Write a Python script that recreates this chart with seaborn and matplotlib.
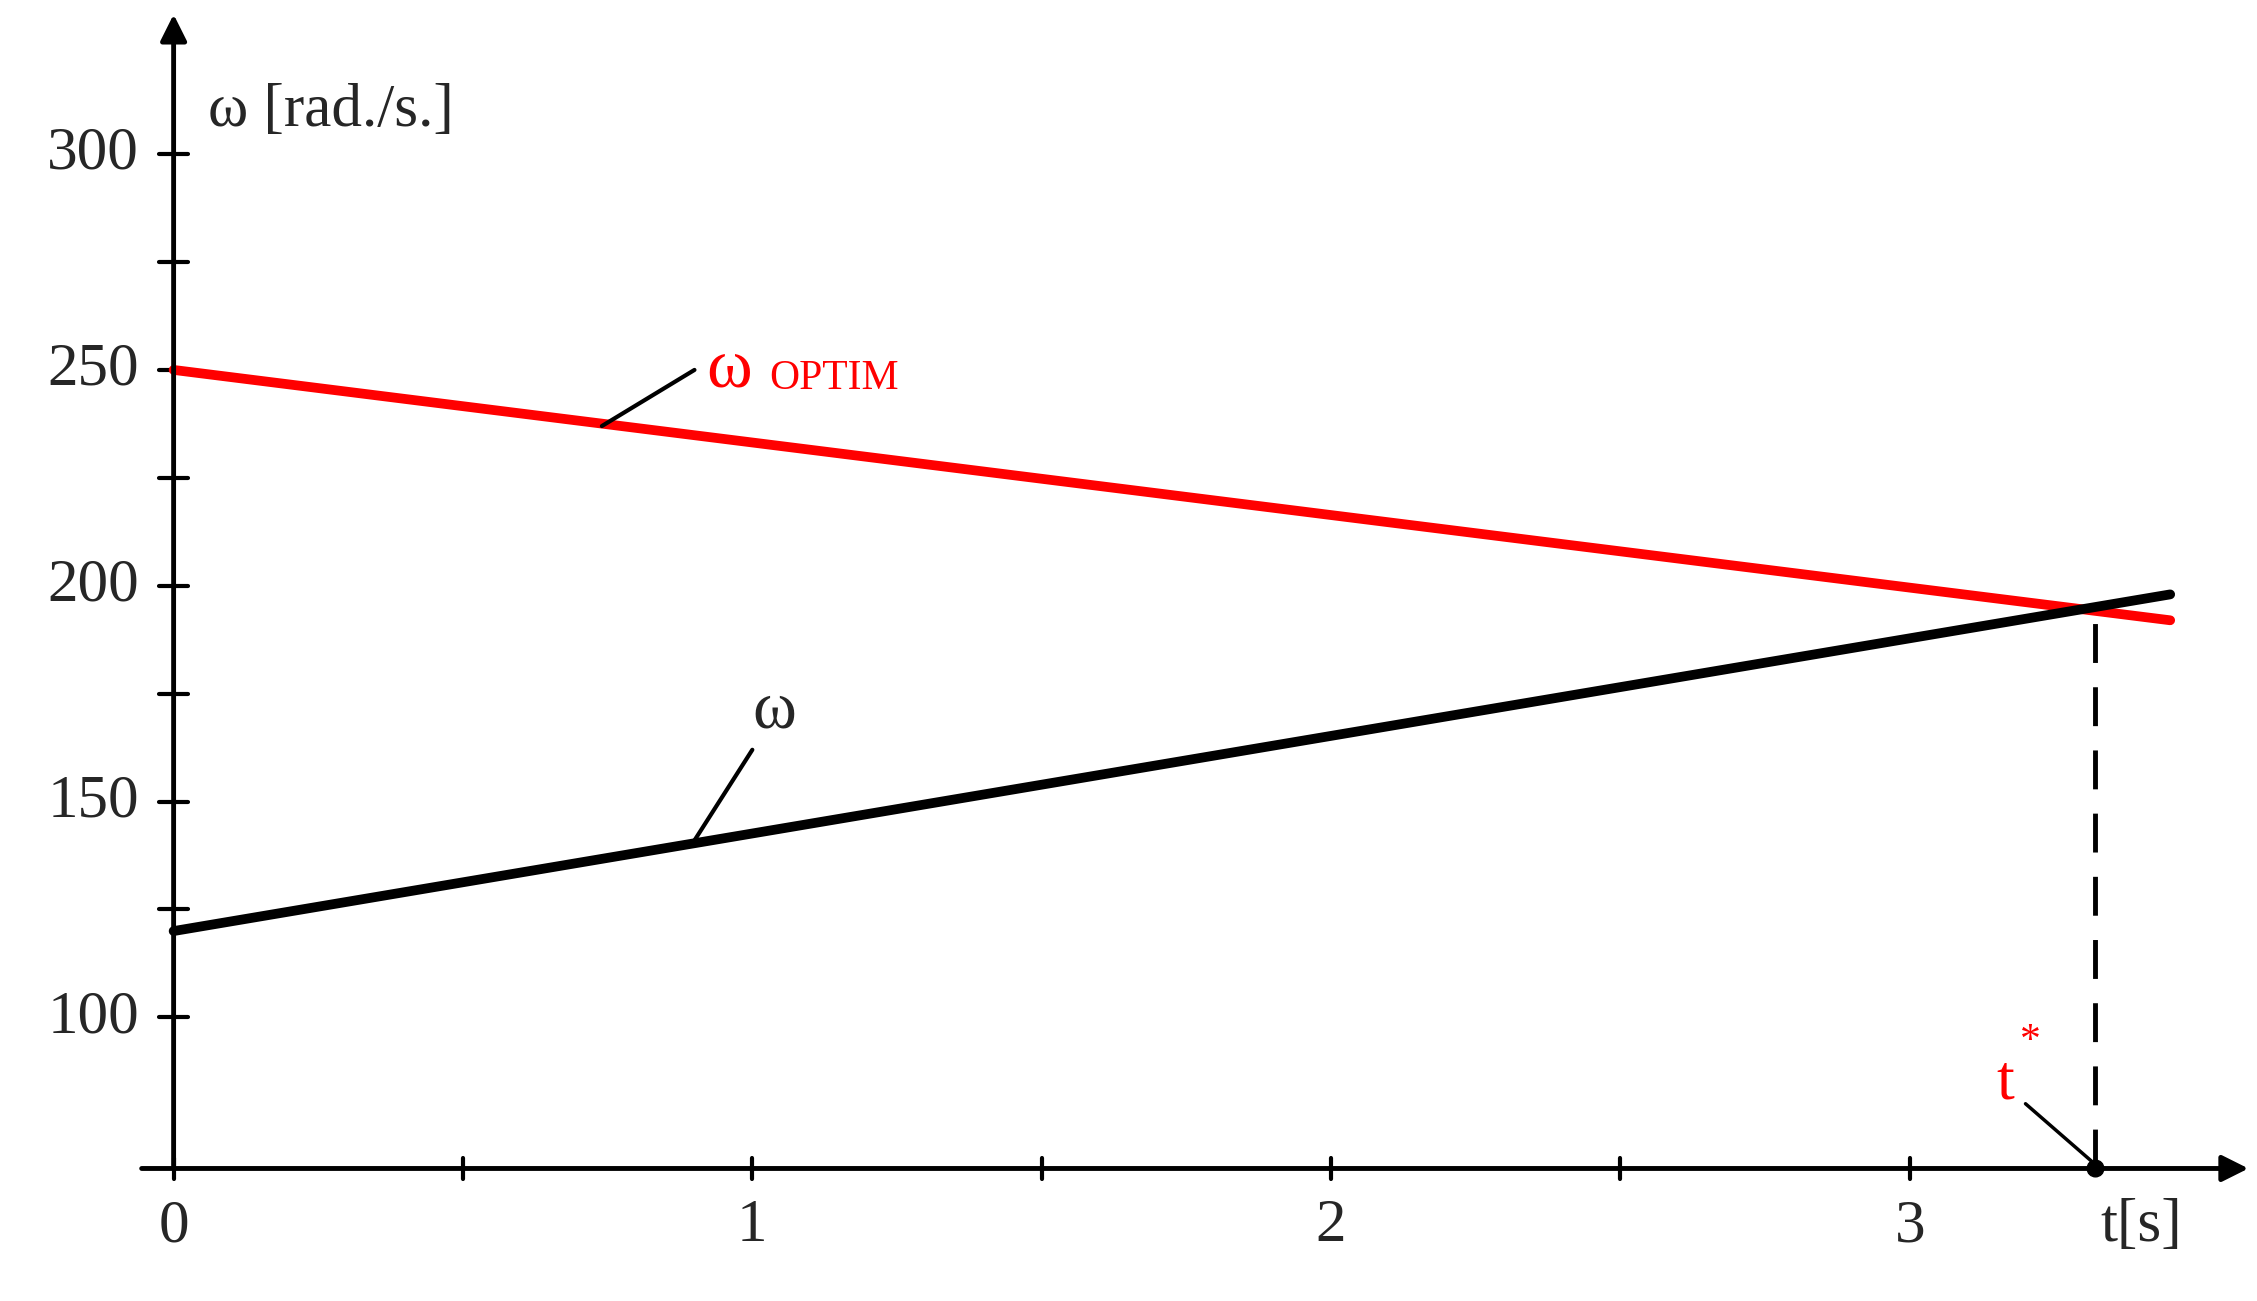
import numpy as np
import matplotlib.pyplot as plt
import seaborn as sns
import pandas as pd

t_vals = [0.0, 3.45]
w_optim = [250, 192]
w_actual = [120, 198]
t_star, w_star = 3.32, 195.5
x_major = [0, 1, 2, 3]
x_minor = [0.5, 1.5, 2.5]
y_major = [100, 150, 200, 250, 300]
y_minor = [125, 175, 225, 275]

sns.set_style("white")
plt.rcParams['font.family'] = ['Liberation Serif', 'DejaVu Serif']

fig = plt.figure(figsize=(22.57, 13.01), dpi=100)
ax = fig.add_axes([0, 0, 1, 1])
ax.set_xlim(-0.3, 3.6)
ax.set_ylim(34.3, 335.7)
ax.axis('off')

y0 = 65  # x axis level
arrow = dict(arrowstyle='-|>', color='black', lw=3.5, mutation_scale=40)
ax.annotate('', xy=(3.59, y0), xytext=(-0.06, y0), arrowprops=arrow)
ax.annotate('', xy=(0, 333), xytext=(0, y0), arrowprops=arrow)

for x in x_major + x_minor:
    ax.plot([x, x], [y0 - 2.5, y0 + 2.5], color='black', lw=3)
for y in y_major + y_minor:
    ax.plot([-0.025, 0.025], [y, y], color='black', lw=3)
for x in x_major:
    ax.text(x, y0 - 7, str(x), ha='center', va='top', fontsize=44)
for y in y_major:
    ax.text(-0.06, y, str(y), ha='right', va='center', fontsize=44)

df = pd.DataFrame({'t': t_vals * 2, 'w': w_optim + w_actual,
                   's': ['opt'] * 2 + ['act'] * 2})
sns.lineplot(data=df, x='t', y='w', hue='s', palette={'opt': 'red', 'act': 'black'},
             linewidth=7, legend=False, ax=ax)

ax.plot([t_star, t_star], [y0, w_star], color='black', lw=3.5, dashes=(8, 5))
ax.plot([t_star], [y0], 'o', color='black', ms=12)
ax.plot([3.2, t_star], [80, y0 + 1], color='black', lw=2.5)
ax.text(3.18, 78, 't', color='red', fontsize=46, ha='right', va='bottom')
ax.text(3.19, 90, '*', color='red', fontsize=30, ha='left', va='bottom')

ax.plot([0.74, 0.9], [237, 250], color='black', lw=3)
ax.text(0.92, 250, 'ω', color='red', fontsize=50, va='center')
ax.text(1.03, 248, 'OPTIM', color='red', fontsize=30, va='center')
ax.plot([0.9, 1.0], [141, 162], color='black', lw=3)
ax.text(1.0, 164, 'ω', fontsize=48, va='bottom')

ax.text(0.06, 310, 'ω [rad./s.]', fontsize=44, va='center')
ax.text(3.4, y0 - 7, 't[s]', fontsize=44, ha='center', va='top')

fig.savefig('out.png', dpi=100)
